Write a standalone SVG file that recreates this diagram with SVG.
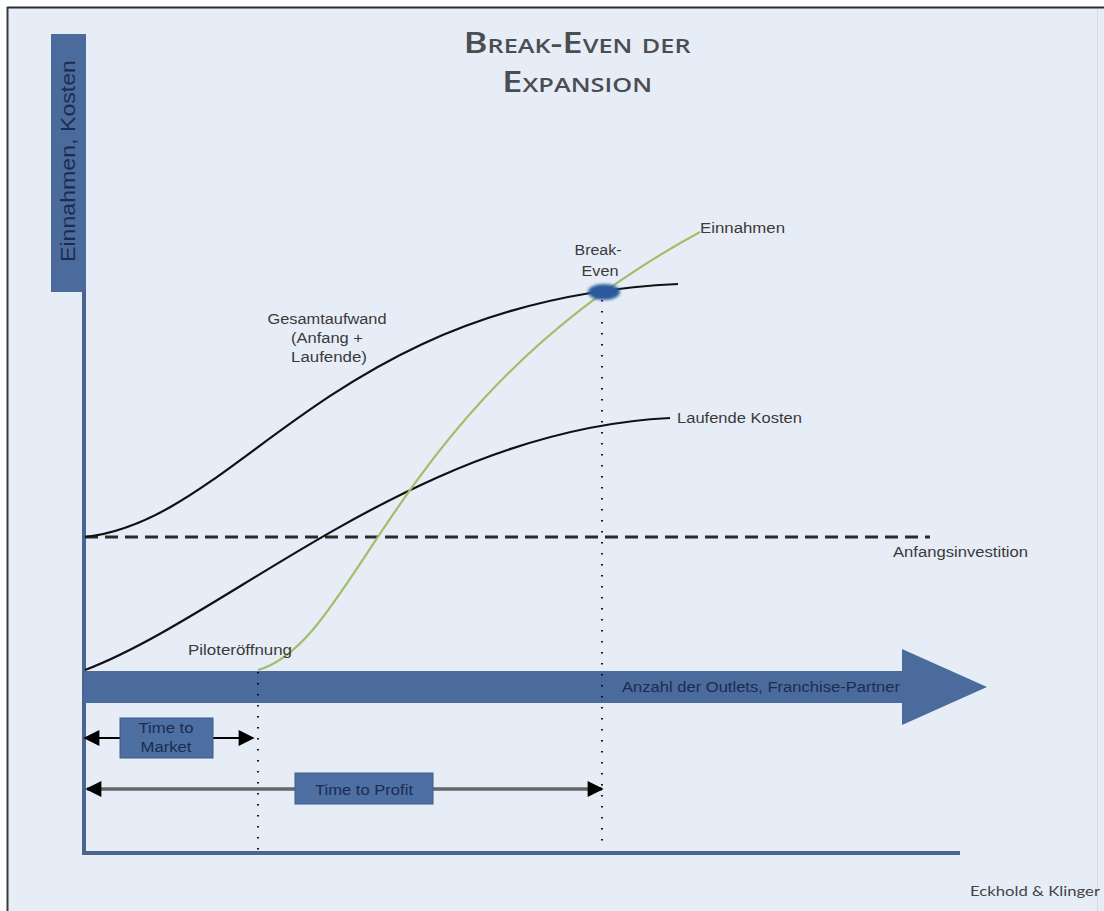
<svg xmlns="http://www.w3.org/2000/svg" width="1104" height="911" viewBox="0 0 1104 911">
<defs>
<style>
.lbl{font-family:"Liberation Sans",Arial,sans-serif;font-size:14px;fill:#3a3a3a}
.dark{fill:#1c2b52}
.curve{fill:none;stroke:#111;stroke-width:2.2}
.green{fill:none;stroke:#a3bd6a;stroke-width:2.2}
.dots{stroke:#111;stroke-width:2;stroke-dasharray:1.6 9.4;stroke-linecap:butt}
.blue{fill:#4a6b9b}
.box{fill:#4e6fa1;stroke:#3d5d8e;stroke-width:1}
.title{font-family:"Open Sans","Liberation Sans",sans-serif;font-weight:600;font-variant:small-caps;font-size:29px;fill:#4a4d52}
</style>
<marker id="ah" viewBox="0 0 10 10" refX="9" refY="5" markerUnits="userSpaceOnUse" markerWidth="20" markerHeight="16" orient="auto-start-reverse">
<path d="M0,0 L10,5 L0,10 Z" fill="#000"/>
</marker>
<filter id="fz" x="-50%" y="-50%" width="200%" height="200%"><feGaussianBlur stdDeviation="1.4"/></filter>
</defs>
<rect x="0" y="0" width="1104" height="911" fill="#ffffff"/>
<rect x="8" y="8" width="1096" height="903" fill="#e7edf7"/>
<line x1="7" y1="7.5" x2="1104" y2="7.5" stroke="#2a2a2a" stroke-width="2"/>
<line x1="7.5" y1="7" x2="7.5" y2="911" stroke="#3a3a3a" stroke-width="2"/>
<line x1="1097.5" y1="9" x2="1097.5" y2="911" stroke="#d5dbe6" stroke-width="1"/>

<g id="title">
<text class="title" x="577" y="53" text-anchor="middle" textLength="227" lengthAdjust="spacingAndGlyphs">Break-Even der</text>
<text class="title" x="577" y="92" text-anchor="middle" textLength="150" lengthAdjust="spacingAndGlyphs">Expansion</text>
</g>

<g id="y-axis">
<rect x="51" y="34" width="35" height="258" class="blue"/>
<line x1="84" y1="290" x2="84" y2="855" stroke="#4a6590" stroke-width="4"/>
<text class="lbl dark" transform="translate(75,161) rotate(-90)" text-anchor="middle" style="font-size:21px" textLength="202" lengthAdjust="spacingAndGlyphs">Einnahmen, Kosten</text>
</g>

<g id="x-axis-base">
<line x1="82" y1="853" x2="960" y2="853" stroke="#4a6590" stroke-width="4"/>
</g>

<g id="outlets-arrow">
<rect x="84" y="671" width="822" height="32" class="blue"/>
<polygon points="902,649 987,687 902,725" class="blue"/>
<text class="lbl dark" x="622" y="692" textLength="278" lengthAdjust="spacingAndGlyphs">Anzahl der Outlets, Franchise-Partner</text>
</g>

<g id="connectors">
<line x1="85" y1="537" x2="930" y2="537" stroke="#2a2a2a" stroke-width="3" stroke-dasharray="13 7"/>
<path class="curve" d="M85,537 C240,520 330,300 678,284"/>
<path class="curve" d="M85,670 C230,615 420,430 670,418"/>
<path class="green" d="M258,670 C360,640 390,400 700,232"/>
<line class="dots" x1="258" y1="672" x2="258" y2="855"/>
<line class="dots" x1="602" y1="300" x2="602" y2="845"/>
<line x1="120" y1="738" x2="85" y2="738" stroke="#000" stroke-width="2" marker-end="url(#ah)"/>
<line x1="213" y1="738" x2="253" y2="738" stroke="#000" stroke-width="2" marker-end="url(#ah)"/>
<line x1="87" y1="789" x2="602" y2="789" stroke="#666" stroke-width="3.5" marker-start="url(#ah)" marker-end="url(#ah)"/>
</g>

<g id="break-even">
<ellipse cx="604" cy="292" rx="16" ry="8" fill="#2c5a9c" filter="url(#fz)"/>
<text class="lbl" x="598" y="255" text-anchor="middle" textLength="47" lengthAdjust="spacingAndGlyphs">Break-</text>
<text class="lbl" x="600" y="276" text-anchor="middle" textLength="37" lengthAdjust="spacingAndGlyphs">Even</text>
</g>

<g id="einnahmen-label">
<text class="lbl" x="700" y="233" textLength="85" lengthAdjust="spacingAndGlyphs">Einnahmen</text>
</g>

<g id="gesamtaufwand-label">
<text class="lbl" x="327" y="324" text-anchor="middle" textLength="119" lengthAdjust="spacingAndGlyphs">Gesamtaufwand</text>
<text class="lbl" x="327" y="343" text-anchor="middle" textLength="72" lengthAdjust="spacingAndGlyphs">(Anfang +</text>
<text class="lbl" x="329" y="362" text-anchor="middle" textLength="76" lengthAdjust="spacingAndGlyphs">Laufende)</text>
</g>

<g id="laufende-label">
<text class="lbl" x="677" y="423" textLength="125" lengthAdjust="spacingAndGlyphs">Laufende Kosten</text>
</g>

<g id="anfangsinvestition-label">
<text class="lbl" x="893" y="557" textLength="135" lengthAdjust="spacingAndGlyphs">Anfangsinvestition</text>
</g>

<g id="pilot-label">
<text class="lbl" x="188" y="655" textLength="104" lengthAdjust="spacingAndGlyphs">Piloteröffnung</text>
</g>

<g id="time-to-market">
<rect x="120" y="718" width="93" height="40" class="box"/>
<text class="lbl dark" x="166" y="733" text-anchor="middle" textLength="55" lengthAdjust="spacingAndGlyphs">Time to</text>
<text class="lbl dark" x="166" y="752" text-anchor="middle" textLength="51" lengthAdjust="spacingAndGlyphs">Market</text>
</g>

<g id="time-to-profit">
<rect x="295" y="773" width="138" height="31" class="box"/>
<text class="lbl dark" x="364" y="795" text-anchor="middle" textLength="98" lengthAdjust="spacingAndGlyphs">Time to Profit</text>
</g>

<g id="credit">
<text x="970" y="896" style="font-family:Lato,'Liberation Sans',sans-serif;font-size:14px;fill:#444" textLength="130" lengthAdjust="spacingAndGlyphs">Eckhold &amp; Klinger</text>
</g>
</svg>
